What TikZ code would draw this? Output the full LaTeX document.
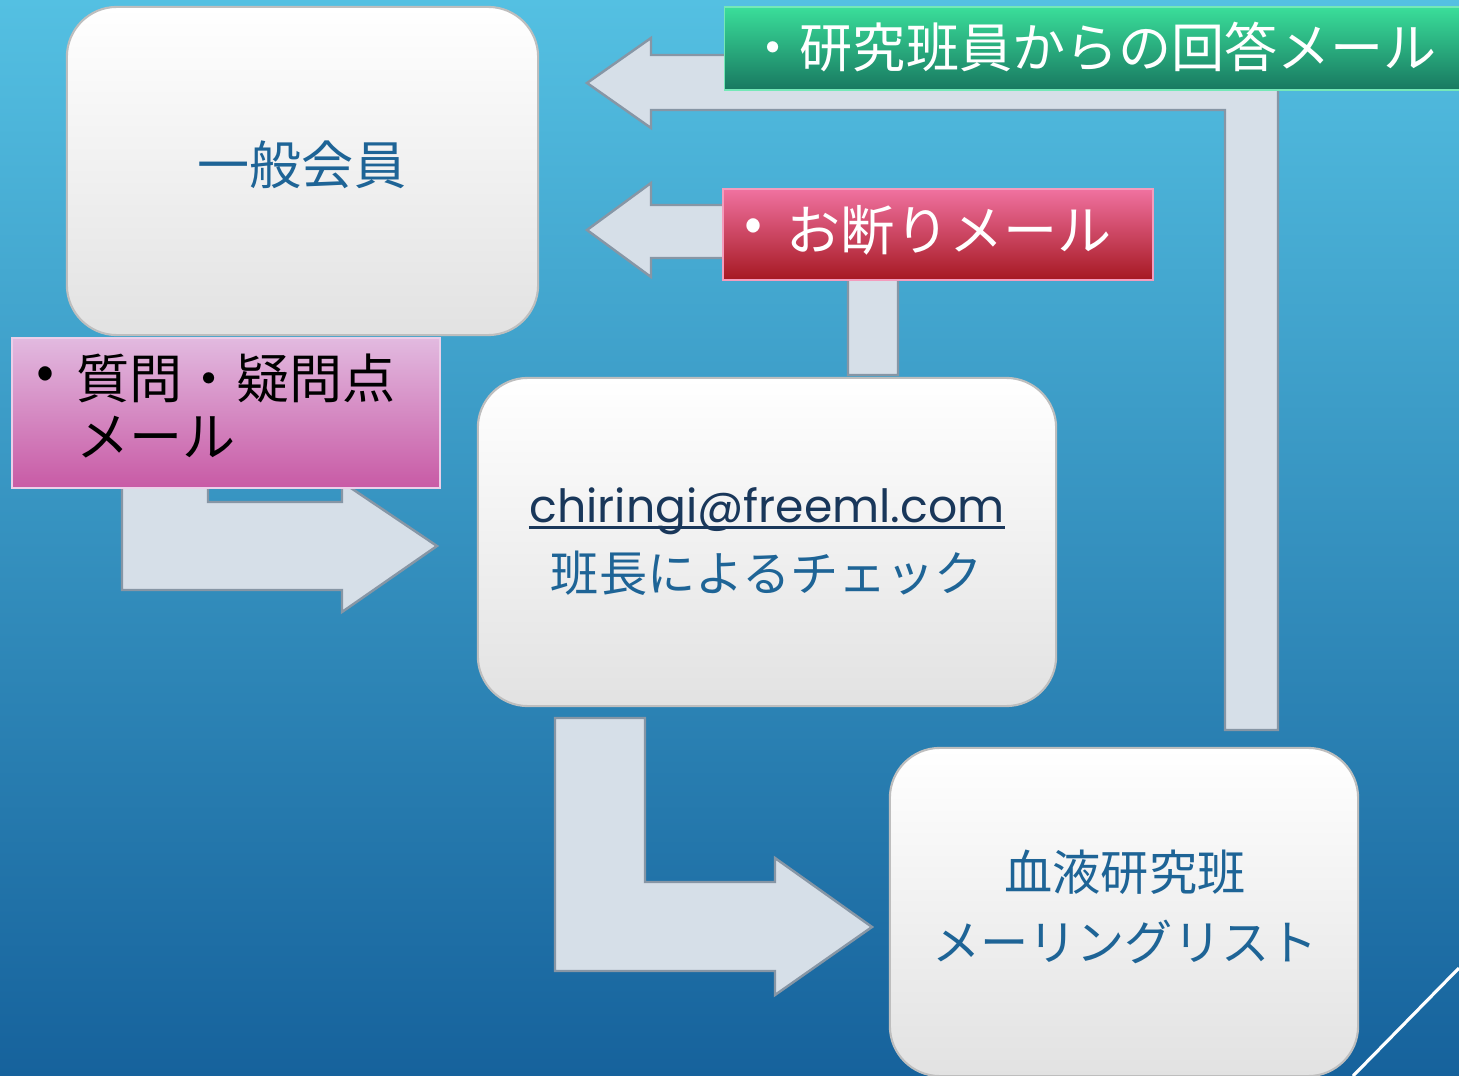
\documentclass[tikz,border=0pt]{standalone}
\usepackage{fontspec}
\newfontfamily\jp{Noto Sans CJK JP}
\newfontfamily\lat{Poppins}
\definecolor{bgtop}{RGB}{84,192,226}
\definecolor{bgbot}{RGB}{22,98,156}
\definecolor{arrowfill}{RGB}{214,223,232}
\definecolor{arrowedge}{RGB}{135,150,165}
\definecolor{boxbot}{RGB}{226,226,226}
\definecolor{boxedge}{RGB}{190,190,190}
\definecolor{txtblue}{RGB}{30,100,150}
\definecolor{navy}{RGB}{25,55,90}
\definecolor{greentop}{RGB}{58,222,154}
\definecolor{greenbot}{RGB}{24,120,96}
\definecolor{redtop}{RGB}{240,114,160}
\definecolor{redbot}{RGB}{166,24,34}
\definecolor{pinktop}{RGB}{226,186,224}
\definecolor{pinkbot}{RGB}{200,90,165}
\begin{document}
\begin{tikzpicture}[x=0.01cm,y=-0.01cm,
  box/.style={draw=boxedge, line width=0.6pt, rounded corners=0.5cm, top color=white, bottom color=boxbot, inner sep=0pt},
  blockarrow/.style={fill=arrowfill, draw=arrowedge, line width=0.7pt, line join=miter},
  label/.style={draw=#1top!70!white, line width=0.4pt, top color=#1top, bottom color=#1bot, inner sep=0pt},
  boxtxt/.style={font=\jp\fontsize{13.7}{16}\selectfont, text=txtblue, inner sep=0pt},
  labtxt/.style={font=\jp\fontsize{15.1}{18}\selectfont, inner sep=0pt, anchor=west}
]
% background
\shade[top color=bgtop, bottom color=bgbot] (0,0) rectangle (1459,1076);
\useasboundingbox (0,0) rectangle (1459,1076);

% block arrows
\draw[blockarrow] (587,83) -- (651,38) -- (651,55) -- (1278,55) -- (1278,730) -- (1225,730) -- (1225,110) -- (651,110) -- (651,128) -- cycle;
\draw[blockarrow] (587,230) -- (651,183) -- (651,205) -- (898,205) -- (898,375) -- (848,375) -- (848,258) -- (651,258) -- (651,277) -- cycle;
\draw[blockarrow] (122,470) -- (208,470) -- (208,502) -- (342,502) -- (342,482) -- (437,546) -- (342,612) -- (342,590) -- (122,590) -- cycle;
\draw[blockarrow] (555,718) -- (645,718) -- (645,882) -- (775,882) -- (775,858) -- (872,927) -- (775,995) -- (775,971) -- (555,971) -- cycle;

% boxes
\node[box, minimum width=4.71cm, minimum height=3.28cm] (member) at (302.5,171) {};
\node[box, minimum width=5.78cm, minimum height=3.28cm] (check) at (767,542) {};
\node[box, minimum width=4.68cm, minimum height=3.28cm] (list) at (1124,912) {};

\node[boxtxt, font=\jp\fontsize{14.8}{17}\selectfont] (memberT) at (302,165) {一般会員};
\node[boxtxt, text=navy, font=\lat\fontsize{13}{15}\selectfont, anchor=base] (mailT) at (767,523) {chiringi@freeml.com};
\draw[navy, line width=0.9pt] ([yshift=-1.2pt]mailT.base west) -- ([yshift=-1.2pt]mailT.base east);
\node[boxtxt] (checkT) at (767,573) {班長によるチェック};
\node[boxtxt] (listT1) at (1125,872) {血液研究班};
\node[boxtxt] (listT2) at (1125,942) {メーリングリスト};

% labels
\node[label=green, minimum width=7.34cm, minimum height=0.83cm] (lgreen) at (1092,48.5) {};
\node[labtxt, text=white] (lgreenT) at (746,47) {・研究班員からの回答メール};

\node[label=red, minimum width=4.30cm, minimum height=0.91cm] (lred) at (938,234.5) {};
\node[labtxt, text=white] (lredB) at (744,230) {•};
\node[labtxt, text=white, font=\jp\fontsize{15.4}{18}\selectfont] (lredT) at (786,230) {お断りメール};

\node[label=pink, minimum width=4.28cm, minimum height=1.50cm] (lpink) at (226,413) {};
\node[labtxt, text=black] (lpinkB) at (36,378) {•};
\node[labtxt, text=black] (lpinkT1) at (76,378) {質問・疑問点};
\node[labtxt, text=black] (lpinkT2) at (76,437) {メール};

% decorative line
\draw[white, line width=0.9pt] (1353,1076) -- (1459,968);
\end{tikzpicture}
\end{document}
